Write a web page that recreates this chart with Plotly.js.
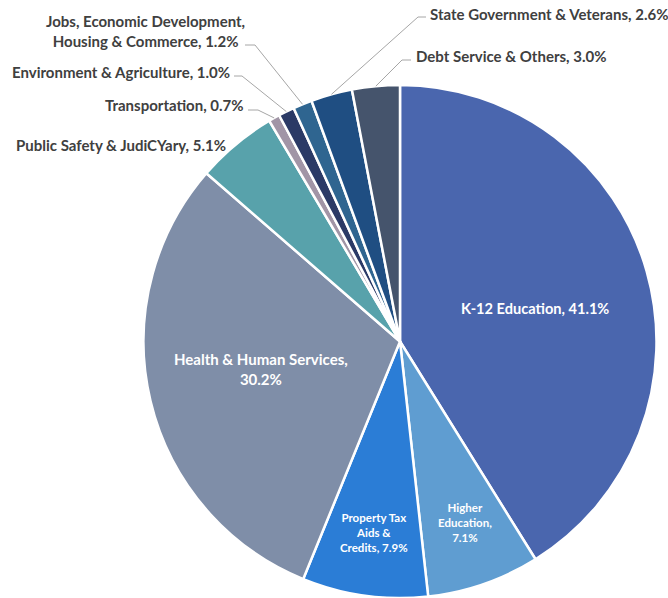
<!DOCTYPE html>
<html><head><meta charset="utf-8">
<script src="https://cdn.plot.ly/plotly-3.0.1.min.js"></script>
<style>html,body{margin:0;padding:0;background:#fff}</style>
</head><body>
<div id="chart" style="width:668px;height:598px"></div>
<script>
// ---- data ----
const categories = ["K-12 Education", "Higher Education", "Property Tax Aids & Credits", "Health & Human Services",
  "Public Safety & JudiCYary", "Transportation", "Environment & Agriculture",
  "Jobs, Economic Development, Housing & Commerce", "State Government & Veterans", "Debt Service & Others"];
const shares = [41.1, 7.1, 7.9, 30.2, 5.1, 0.7, 1.0, 1.2, 2.6, 3.0];
const displayNames = ["K-12 Education", "Higher<br>Education", "Property Tax<br>Aids &<br>Credits", "Health & Human Services",
  "Public Safety & JudiCYary", "Transportation", "Environment & Agriculture",
  "Jobs, Economic Development,<br>Housing & Commerce", "State Government & Veterans", "Debt Service & Others"];
const valueBreak = [false, true, false, true, false, false, false, false, false, false];
const sliceColors = ["#4a66ae", "#5f9dd1", "#2b7dd6", "#7f8ea8", "#58a2ab", "#a195a6", "#2b3a66", "#2f6590", "#1f4e82", "#45546c"];

// ---- geometry / style ----
const W = 668, H = 598, CX = 400, R = 256.5, CY = H - R;
const FONT = 'Lato, "Open Sans", sans-serif';
const labelStyle = [
  {inside: true, r: 0.54, dx: 2, dy: 5, size: 14.6},
  {inside: true, r: 0.752, dx: 2, dy: -1, size: 11.5},
  {inside: true, r: 0.75, dx: 1, dy: 0, size: 11.5},
  {inside: true, r: 0.552, dx: -1, dy: -5, size: 15},
  {inside: false, x: 228, y: 145, anchor: 'right'},
  {inside: false, x: 246, y: 105, anchor: 'right', elbow: [258, 110], end: [248, 110]},
  {inside: false, x: 232, y: 72, anchor: 'right', elbow: [242, 76], end: [234, 76]},
  {inside: false, x: 247, y: 31, anchor: 'right', elbow: [255, 45], end: [245, 45]},
  {inside: false, x: 428, y: 14, anchor: 'left', elbow: [418, 17], end: [426, 17]},
  {inside: false, x: 414, y: 56, anchor: 'left', elbow: [402, 60], end: [411, 60]}
];

const px = x => x / W;
const py = y => 1 - y / H;
const total = shares.reduce((a, b) => a + b, 0);
let cum = 0;
const midFrac = shares.map(v => { const m = (cum + v / 2) / total; cum += v; return m; });
function polar(f, r) {
  const t = 2 * Math.PI * f;
  return [CX + r * Math.sin(t), CY - r * Math.cos(t)];
}

const annotations = [];
const shapes = [];
shares.forEach((v, i) => {
  const s = labelStyle[i];
  const text = displayNames[i] + "," + (valueBreak[i] ? "<br>" : " ") + v.toFixed(1) + "%";
  if (s.inside) {
    const [x, y] = polar(midFrac[i], s.r * R);
    annotations.push({x: px(x + s.dx), y: py(y + s.dy), xref: 'paper', yref: 'paper', text: text,
      showarrow: false, xanchor: 'center', yanchor: 'middle', align: 'center',
      font: {family: FONT, size: s.size, color: '#ffffff', weight: 'bold'}});
  } else {
    annotations.push({x: px(s.x), y: py(s.y), xref: 'paper', yref: 'paper', text: text,
      showarrow: false, xanchor: s.anchor, yanchor: 'middle', align: 'center',
      font: {family: FONT, size: 15, color: '#404040', weight: 'bold'}});
    if (s.elbow) {
      const [ex, ey] = polar(midFrac[i], R);
      shapes.push({type: 'path', xref: 'paper', yref: 'paper',
        path: `M ${px(ex)} ${py(ey)} L ${px(s.elbow[0])} ${py(s.elbow[1])} L ${px(s.end[0])} ${py(s.end[1])}`,
        line: {color: '#a6a6a6', width: 1}});
    }
  }
});

const trace = {
  type: 'pie', labels: categories, values: shares, sort: false, direction: 'clockwise', rotation: 0,
  marker: {colors: sliceColors, line: {color: '#ffffff', width: 2.5}},
  textinfo: 'none', hoverinfo: 'label+percent',
  domain: {x: [px(CX - R), px(CX + R)], y: [0, py(CY - R)]}
};

Plotly.newPlot('chart', [trace], {
  width: W, height: H, margin: {l: 0, r: 0, t: 0, b: 0},
  paper_bgcolor: '#ffffff', showlegend: false,
  annotations: annotations, shapes: shapes
}, {displayModeBar: false, staticPlot: true});
</script>
</body></html>
